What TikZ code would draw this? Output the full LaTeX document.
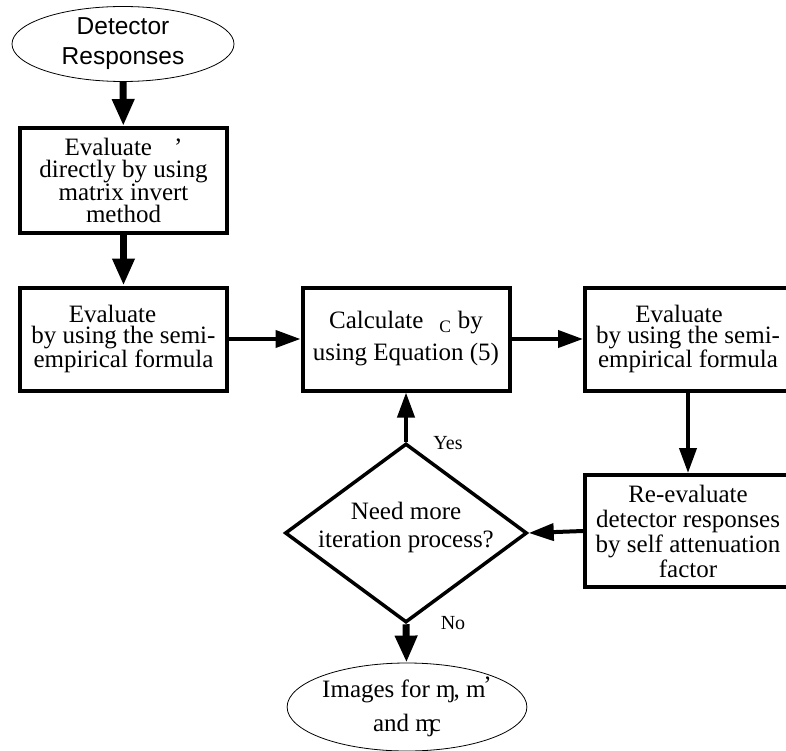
\documentclass[tikz,border=0pt]{standalone}
\usepackage{fontspec}
\setmainfont{Liberation Serif}
\newfontfamily\respfont{Liberation Sans}
\usetikzlibrary{shapes.geometric,arrows.meta}

\begin{document}
\begin{tikzpicture}[x=1pt,y=-1pt,
   every node/.style={font=\fontsize{25}{22.5}\selectfont},
   stepbox/.style={draw,line width=4pt,minimum width=207pt,minimum height=103pt,inner sep=0pt,align=center},
   term/.style={draw,ellipse,line width=0.8pt,inner sep=0pt,align=center},
   decide/.style={draw,diamond,line width=3.5pt,minimum width=242pt,minimum height=179pt,inner sep=0pt},
   flow/.style={line width=4pt,-{Triangle[width=17pt,length=25pt]}},
   bigflow/.style={line width=7pt,-{Triangle[width=21pt,length=27pt]}},
   answer/.style={font=\fontsize{20}{22}\selectfont,inner sep=0pt}]
\useasboundingbox (0,0) rectangle (786,751);

\node[term,minimum width=222pt,minimum height=75pt,
      font=\respfont\fontsize{24.5}{30}\selectfont] (resp) at (123,44) {Detector\\Responses};
\node[stepbox,minimum height=105pt] (inv) at (123.5,180.5)
   {Evaluate\hspace{22pt}'\\directly by using\\matrix invert\\method};
\node[stepbox,font=\fontsize{25}{21.5}\selectfont] (semi) at (123.5,339)
   {Evaluate\hspace{22pt}\null\\by using the semi-\\empirical formula};
\node[stepbox,font=\fontsize{25}{32}\selectfont] (calc) at (406,339)
   {Calculate\hspace{16pt}\textsubscript{C} by\\using Equation (5)};
\node[stepbox,minimum width=206pt,font=\fontsize{25}{21.5}\selectfont] (semir) at (688,339)
   {Evaluate\hspace{18pt}\null\\by using the semi-\\empirical formula};
\node[stepbox,minimum width=206pt,minimum height=112pt,font=\fontsize{25}{25}\selectfont] (reval) at (688,531)
   {Re-evaluate\\detector responses\\by self attenuation\\factor};
\node[decide] (dec) at (406,533) {};
\node[align=center,inner sep=0pt,font=\fontsize{25}{28}\selectfont] (dectext) at (406,527)
   {Need more\\iteration process?};
\node[term,minimum width=235pt,minimum height=88pt,font=\fontsize{25}{34}\selectfont] (img) at (407,707)
   {Images for ɱ\kern-2pt, m\kern-2pt\raisebox{4pt}{'}\\and ɱ\kern-5pt c};
\node[answer] (yes) at (448,443) {Yes};
\node[answer] (no) at (453,623) {No};

\draw[bigflow] (resp) -- (inv);
\draw[bigflow] (inv) -- (semi);
\draw[flow] (semi) -- (calc);
\draw[flow] (calc) -- (semir);
\draw[flow] (semir) -- (reval);
\draw[flow] (reval.west) -- (dec.east);
\draw[flow] (dec.north) -- (calc);
\draw[bigflow] (dec.south) -- (img);
\end{tikzpicture}
\end{document}
